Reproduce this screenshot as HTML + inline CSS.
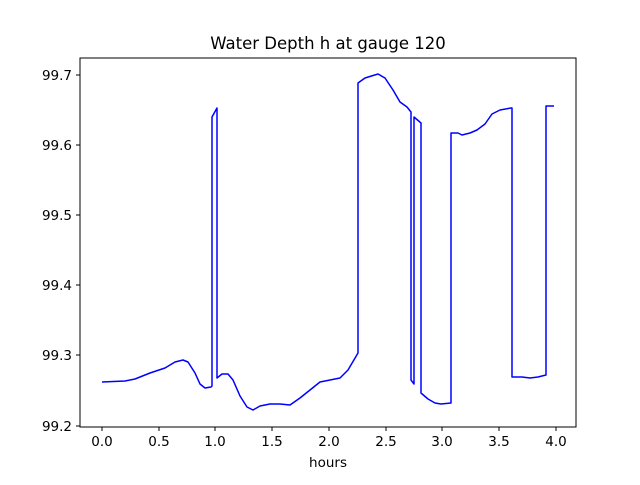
<!DOCTYPE html>
<html><head><style>body{margin:0;background:#fff}svg text{font-family:"DejaVu Sans","Liberation Sans",sans-serif}</style></head>
<body>
<svg width="640" height="480" viewBox="0 0 640 480" xmlns="http://www.w3.org/2000/svg">
<rect width="640" height="480" fill="#fff"/>
<polyline fill="none" stroke="#0000ff" stroke-width="1.5" stroke-linejoin="round" points="102,382 125,381 135,379 150,373 165,368 175,362 183,360 188,362 195,373 200,384 205,388 211,387 212,386 212,117 217,108 217,378 222,374 228,374 233,380 240,396 247,407 253,410 260,406 270,404 280,404 290,405 300,398 310,390 320,382 330,380 340,378 348,370 358,353 358,83 365,78 378,74 385,78 393,90 400,102 407,107 411,112 411,380 414,384 414,117 421,123 421,393 428,399 435,403 441,404 451,403 451,133 458,133 462,135 470,133 477,130 485,124 492,114 500,110 511,108 512,108 512,377 522,377 530,378 538,377 546,375 546,106 554,106"/>
<rect x="80" y="58" width="496" height="369" fill="none" stroke="#000" stroke-width="1"/>
<g stroke="#000" stroke-width="1">
<line x1="102" y1="427" x2="102" y2="431"/><line x1="159" y1="427" x2="159" y2="431"/><line x1="215" y1="427" x2="215" y2="431"/><line x1="272" y1="427" x2="272" y2="431"/><line x1="329" y1="427" x2="329" y2="431"/><line x1="386" y1="427" x2="386" y2="431"/><line x1="442" y1="427" x2="442" y2="431"/><line x1="499" y1="427" x2="499" y2="431"/><line x1="556" y1="427" x2="556" y2="431"/>
<line x1="76" y1="426" x2="80" y2="426"/><line x1="76" y1="355" x2="80" y2="355"/><line x1="76" y1="285" x2="80" y2="285"/><line x1="76" y1="215" x2="80" y2="215"/><line x1="76" y1="145" x2="80" y2="145"/><line x1="76" y1="75" x2="80" y2="75"/>
</g>
<g font-size="13.5" text-anchor="middle" fill="#000">
<text x="102" y="446">0.0</text><text x="159" y="446">0.5</text><text x="215" y="446">1.0</text><text x="272" y="446">1.5</text><text x="329" y="446">2.0</text><text x="386" y="446">2.5</text><text x="442" y="446">3.0</text><text x="499" y="446">3.5</text><text x="556" y="446">4.0</text>
<text x="328" y="467">hours</text>
</g>
<g font-size="13.5" text-anchor="end" fill="#000">
<text x="72" y="431">99.2</text><text x="72" y="360">99.3</text><text x="72" y="290">99.4</text><text x="72" y="220">99.5</text><text x="72" y="150">99.6</text><text x="72" y="80">99.7</text>
</g>
<text x="328" y="49" font-size="16.5" text-anchor="middle">Water Depth h at gauge 120</text>
</svg>
</body></html>
